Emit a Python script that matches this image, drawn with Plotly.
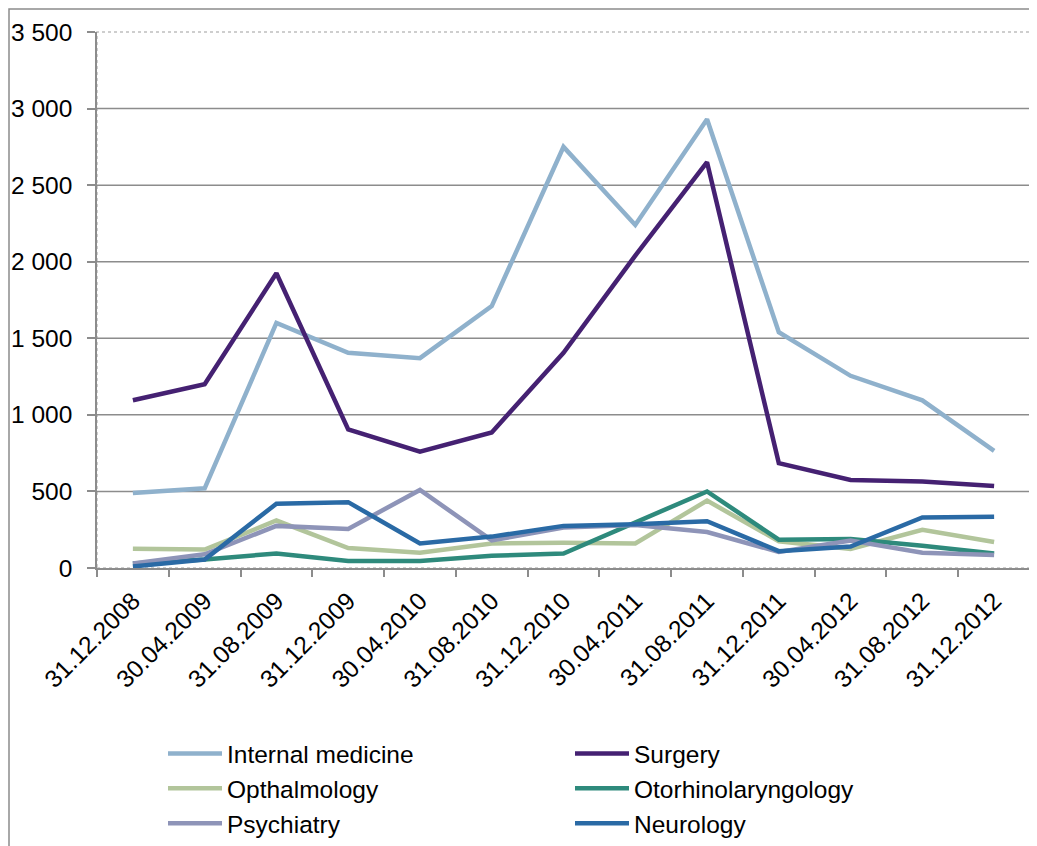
import plotly.graph_objects as go

categories = ["31.12.2008", "30.04.2009", "31.08.2009", "31.12.2009", "30.04.2010",
              "31.08.2010", "31.12.2010", "30.04.2011", "31.08.2011", "31.12.2011",
              "30.04.2012", "31.08.2012", "31.12.2012"]

internal_medicine = [490, 520, 1600, 1405, 1370, 1710, 2750, 2240, 2930, 1540, 1255, 1095, 765]
surgery = [1095, 1200, 1925, 905, 760, 885, 1405, 2040, 2650, 685, 575, 565, 535]
opthalmology = [125, 120, 310, 130, 100, 160, 165, 160, 440, 175, 125, 250, 170]
otorhinolaryngology = [30, 55, 95, 45, 45, 80, 95, 295, 500, 185, 190, 145, 95]
psychiatry = [30, 90, 275, 255, 510, 180, 265, 280, 235, 105, 180, 100, 85]
neurology = [10, 55, 420, 430, 160, 205, 275, 285, 305, 110, 140, 330, 335]

y_tickvals = [0, 500, 1000, 1500, 2000, 2500, 3000, 3500]
y_ticktext = ["0", "500", "1 000", "1 500", "2 000", "2 500", "3 000", "3 500"]

series = [
    ("Internal medicine", internal_medicine, "#8FB1CC"),
    ("Surgery", surgery, "#452172"),
    ("Opthalmology", opthalmology, "#B2C59B"),
    ("Otorhinolaryngology", otorhinolaryngology, "#2E8A7C"),
    ("Psychiatry", psychiatry, "#8E94B8"),
    ("Neurology", neurology, "#2A6AA5"),
]

fig = go.Figure()
for name, vals, color in series:
    fig.add_trace(go.Scatter(
        x=categories, y=vals, name=name, mode="lines",
        line=dict(color=color, width=4.5),
    ))

axis_color = "#8C8C8C"
font = dict(family="Liberation Sans, Arial, sans-serif", size=24.5, color="#000000")

# page has an 8px body margin; plot area should land at page x 97..1030, y 32..568
fig.update_layout(
    width=1037, height=846,
    margin=dict(l=89, r=15, t=24, b=286, autoexpand=False),
    paper_bgcolor="white", plot_bgcolor="white",
    font=font,
    showlegend=True,
    legend=dict(
        orientation="h",
        x=(163 - 97) / 933, xanchor="left",
        y=(568 - 731) / 536, yanchor="top",
        itemwidth=54,
        entrywidth=338, entrywidthmode="pixels",
        font=font,
        tracegroupgap=0,
        borderwidth=0,
        bgcolor="rgba(0,0,0,0)",
    ),
    xaxis=dict(
        type="category",
        tickson="boundaries",
        ticks="outside", ticklen=7, tickcolor=axis_color, tickwidth=1.5,
        showline=True, linecolor=axis_color, linewidth=1.5,
        showgrid=False,
        tickangle=-45,
        ticklabelstandoff=7,
        tickfont=font,
        automargin=False,
        range=[-0.5, len(categories) - 0.5],
    ),
    yaxis=dict(
        range=[0, 3500],
        tickvals=y_tickvals, ticktext=y_ticktext,
        ticks="outside", ticklen=8, tickcolor=axis_color, tickwidth=1.5,
        showline=True, linecolor=axis_color, linewidth=1.5,
        showgrid=False, zeroline=False,
        ticklabelstandoff=10,
        tickfont=font,
        automargin=False,
    ),
)

# plot-area border (dotted)
fig.add_shape(type="rect", xref="paper", yref="paper", x0=0, x1=1, y0=0, y1=1,
              line=dict(color="#BFBFBF", width=1.5, dash="dot"), layer="below")

# horizontal gridlines (interior ticks only)
for v in y_tickvals:
    if 0 < v < 3500:
        fig.add_shape(type="line", xref="paper", yref="y", x0=0, x1=1, y0=v, y1=v,
                      line=dict(color=axis_color, width=1.5), layer="below")

# outer chart border
fig.add_shape(type="rect", xref="paper", yref="paper",
              x0=(9 - 97) / 933, x1=(1060 - 97) / 933,
              y0=(568 - 880) / 536, y1=(568 - 9) / 536,
              line=dict(color="#8C8C8C", width=1.5), layer="below")

fig.write_html("out.html")
